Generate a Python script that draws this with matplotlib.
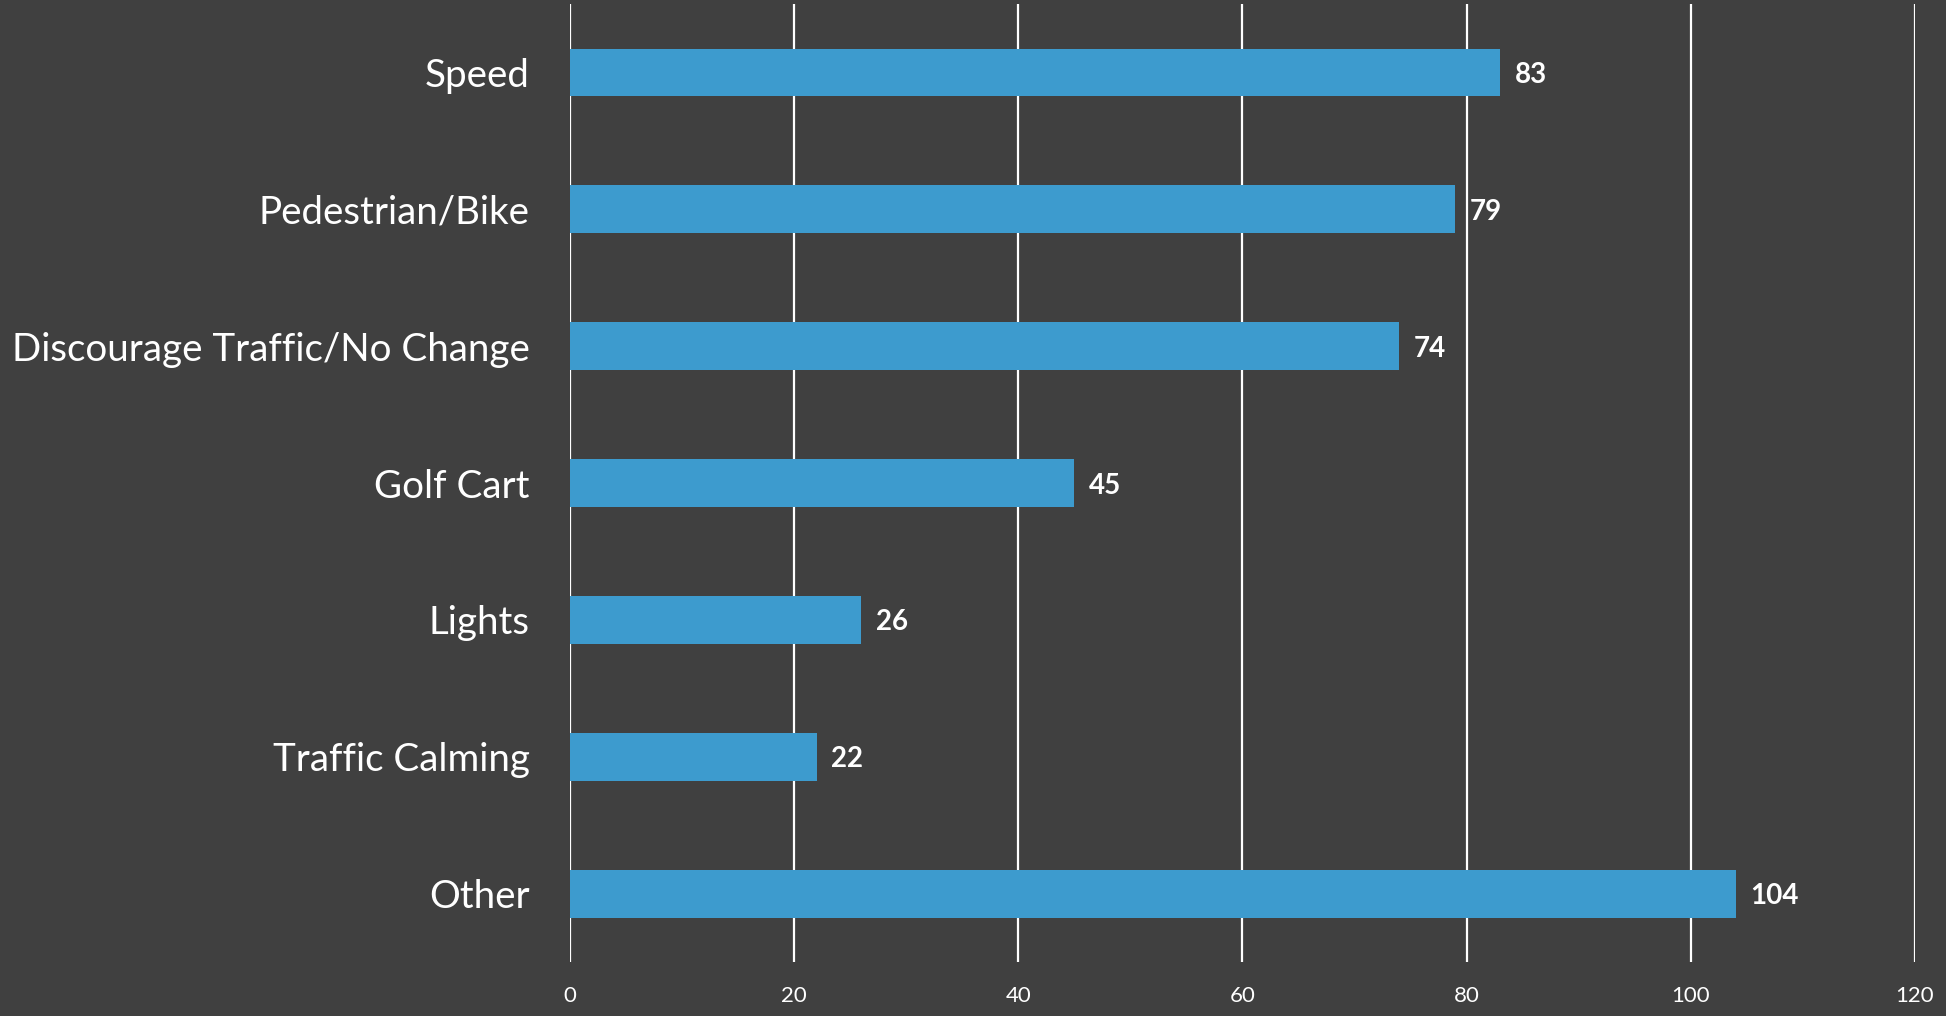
import matplotlib
matplotlib.use("Agg")
import matplotlib.pyplot as plt

# categories listed top to bottom
categories = ['Speed', 'Pedestrian/Bike', 'Discourage Traffic/No Change',
              'Golf Cart', 'Lights', 'Traffic Calming', 'Other']
counts = [83, 79, 74, 45, 26, 22, 104]
xticks = [0, 20, 40, 60, 80, 100, 120]

bg = '#404040'
bar_color = '#3D9BCE'

plt.rcParams['font.family'] = ['Lato', 'DejaVu Sans']

fig = plt.figure(figsize=(19.46, 10.16), dpi=100, facecolor=bg)
ax = fig.add_axes([0.2929, 0.053, 0.984 - 0.2929, 0.996 - 0.053])
ax.set_facecolor(bg)

ypos = list(range(len(categories)))
ax.barh(ypos, counts, height=0.35, color=bar_color, zorder=3)

for y, v in zip(ypos, counts):
	ax.text(v + 1.3, y, str(v), color='white', fontsize=20, fontweight='bold',
			va='center_baseline', ha='left', zorder=4)

ax.set_xlim(0, 120)
ax.set_ylim(len(categories) - 0.5, -0.5)
ax.set_xticks(xticks)
ax.set_yticks(ypos)
ax.set_yticklabels(categories, fontsize=27.7, color='white')
ax.tick_params(axis='y', length=0, pad=29)
ax.tick_params(axis='x', length=0, pad=17, labelsize=16, labelcolor='white')
ax.xaxis.grid(True, color='white', linewidth=1.6, zorder=1)
for s in ax.spines.values():
	s.set_visible(False)

plt.savefig('out.png', dpi=100, facecolor=bg)
